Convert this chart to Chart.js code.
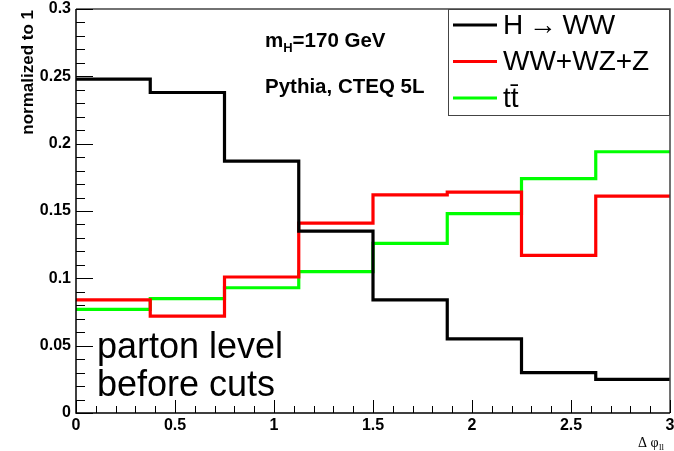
<!DOCTYPE html>
<html>
<head>
<meta charset="utf-8">
<script src="https://cdn.jsdelivr.net/npm/chart.js@4.4.0/dist/chart.umd.min.js"></script>
<style>
    html, body { margin: 0; padding: 0; background: #fff; }
    canvas { display: block; }
</style>
</head>
<body>
<canvas id="dphiChart" width="674" height="451"></canvas>
<script>
// Δφ_ll distributions, 8 bins of 0.375, each normalized to 1
const binEdges = [0, 0.375, 0.75, 1.125, 1.5, 1.875, 2.25, 2.625, 3.0];
const higgsWW = [0.248, 0.238, 0.187, 0.135, 0.084, 0.055, 0.030, 0.025];
const dibosons = [0.084, 0.072, 0.101, 0.141, 0.162, 0.164, 0.117, 0.161];
const ttbar = [0.077, 0.085, 0.093, 0.105, 0.126, 0.148, 0.174, 0.194];
const seriesLabels = ['H\u2009\u2192\u2009WW', 'WW+WZ+Z', 'tt\u0304'];
const xTicks = [0, 0.5, 1, 1.5, 2, 2.5, 3];
const yTicks = [0, 0.05, 0.1, 0.15, 0.2, 0.25, 0.3];

// one point per bin edge, the last edge repeats the last bin content
function histPoints(values) {
    return binEdges.map((x, i) => ({ x: x, y: values[Math.min(i, values.length - 1)] }));
}

function histDataset(label, values, color) {
    return {
        label: label,
        data: histPoints(values),
        borderColor: color,
        backgroundColor: color,
        borderWidth: 3.2,
        borderJoinStyle: 'miter',
        stepped: true,
        pointRadius: 0,
        fill: false
    };
}

const tickFont = { family: 'Liberation Sans, Arial, sans-serif', size: 16, weight: 'bold' };

// frame, inward ticks, legend box and the text labels
const histDecor = {
    id: 'histDecor',
    afterDatasetsDraw(chart) {
        const ctx = chart.ctx;
        const area = chart.chartArea;
        const xs = chart.scales.x;
        const ys = chart.scales.y;
        ctx.save();

        // frame top/right
        ctx.strokeStyle = '#444';
        ctx.lineWidth = 1.5;
        ctx.beginPath();
        ctx.moveTo(area.left, area.top);
        ctx.lineTo(area.right, area.top);
        ctx.lineTo(area.right, area.bottom);
        ctx.stroke();

        // axes
        ctx.strokeStyle = '#000';
        ctx.beginPath();
        ctx.moveTo(area.left, area.top);
        ctx.lineTo(area.left, area.bottom);
        ctx.lineTo(area.right, area.bottom);
        ctx.stroke();

        // y ticks: major every 0.05, minor every 0.01
        ctx.lineWidth = 1;
        ctx.beginPath();
        for (let k = 0; k <= 30; k++) {
            const py = Math.round(ys.getPixelForValue(k / 100)) + 0.5;
            const len = k % 5 === 0 ? 17 : 9;
            ctx.moveTo(area.left, py);
            ctx.lineTo(area.left + len, py);
        }
        // x ticks: major every 0.5, minor every 0.1
        for (let k = 0; k <= 30; k++) {
            const px = Math.round(xs.getPixelForValue(k / 10)) + 0.5;
            const len = k % 5 === 0 ? 13 : 7;
            ctx.moveTo(px, area.bottom);
            ctx.lineTo(px, area.bottom - len);
        }
        ctx.stroke();

        // legend
        const lw = 222, lh = 106;
        const lx = area.right - lw, ly = area.top;
        ctx.fillStyle = '#fff';
        ctx.fillRect(lx, ly, lw, lh);
        ctx.strokeStyle = '#444';
        ctx.lineWidth = 1;
        ctx.strokeRect(lx + 0.5, ly + 0.5, lw - 1, lh);
        ctx.font = '28px "Liberation Sans", Arial, sans-serif';
        ctx.textBaseline = 'middle';
        ctx.textAlign = 'left';
        chart.data.datasets.forEach((ds, i) => {
            const cy = ly + 16 + i * 36.5;
            ctx.strokeStyle = ds.borderColor;
            ctx.lineWidth = 3;
            ctx.beginPath();
            ctx.moveTo(lx + 5, cy);
            ctx.lineTo(lx + 49, cy);
            ctx.stroke();
            ctx.fillStyle = '#000';
            ctx.fillText(ds.label, lx + 55, cy + 1);
        });

        // run info
        ctx.fillStyle = '#000';
        ctx.textBaseline = 'alphabetic';
        ctx.font = 'bold 20.5px "Liberation Sans", Arial, sans-serif';
        let tx = 265;
        ctx.fillText('m', tx, 47);
        tx += ctx.measureText('m').width;
        ctx.font = 'bold 13px "Liberation Sans", Arial, sans-serif';
        ctx.fillText('H', tx, 52);
        tx += ctx.measureText('H').width;
        ctx.font = 'bold 20.5px "Liberation Sans", Arial, sans-serif';
        ctx.fillText('=170 GeV', tx, 47);
        ctx.fillText('Pythia, CTEQ 5L', 265, 93);

        ctx.font = '36px "Liberation Sans", Arial, sans-serif';
        ctx.fillText('parton level', 97, 358);
        ctx.fillText('before cuts', 97, 396);

        // y axis title
        ctx.save();
        ctx.translate(33, area.top + 1);
        ctx.rotate(-Math.PI / 2);
        ctx.textAlign = 'right';
        ctx.font = 'bold 17px "Liberation Sans", Arial, sans-serif';
        ctx.fillText('normalized to 1', 0, 0);
        ctx.restore();

        // x axis title
        ctx.font = '14px "Liberation Serif", "Times New Roman", serif';
        ctx.fillText('\u0394 \u03c6', 638, 447);
        const sx = 638 + ctx.measureText('\u0394 \u03c6').width;
        ctx.font = '9px "Liberation Serif", "Times New Roman", serif';
        ctx.fillText('ll', sx + 0.5, 450);

        ctx.restore();
    }
};

const ctx = document.getElementById('dphiChart').getContext('2d');
new Chart(ctx, {
    type: 'line',
    data: {
        datasets: [
            histDataset(seriesLabels[0], higgsWW, '#000000'),
            histDataset(seriesLabels[1], dibosons, '#ff0000'),
            histDataset(seriesLabels[2], ttbar, '#00ff00')
        ]
    },
    options: {
        responsive: false,
        animation: false,
        devicePixelRatio: 1,
        layout: {
            padding: { top: 9, right: 4, bottom: 0, left: 0 }
        },
        plugins: {
            legend: { display: false },
            tooltip: { enabled: false }
        },
        scales: {
            x: {
                type: 'linear',
                min: 0,
                max: 3,
                grid: { display: false, drawTicks: false },
                border: { display: false },
                ticks: {
                    color: '#000',
                    font: tickFont,
                    padding: 3,
                    maxRotation: 0,
                    autoSkip: false,
                    callback: (v) => String(v)
                },
                afterBuildTicks: (s) => { s.ticks = xTicks.map(v => ({ value: v })); },
                afterFit: (s) => {
                    s.height = 38;
                    s.paddingLeft = 0;
                    s.paddingRight = 0;
                }
            },
            y: {
                type: 'linear',
                min: 0,
                max: 0.3,
                grid: { display: false, drawTicks: false },
                border: { display: false },
                ticks: {
                    color: '#000',
                    font: tickFont,
                    padding: 5,
                    callback: (v) => String(v)
                },
                afterBuildTicks: (s) => { s.ticks = yTicks.map(v => ({ value: v })); },
                afterFit: (s) => {
                    s.width = 76;
                    s.paddingTop = 0;
                    s.paddingBottom = 0;
                }
            }
        }
    },
    plugins: [histDecor]
});
</script>
</body>
</html>
